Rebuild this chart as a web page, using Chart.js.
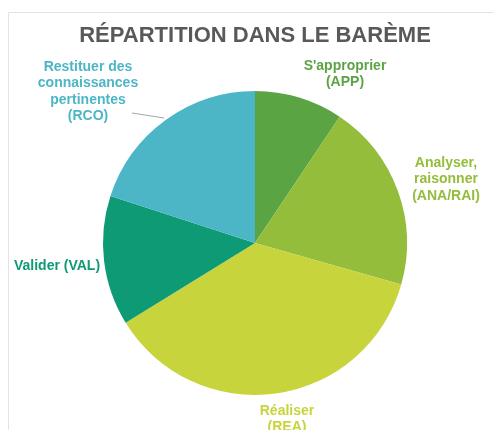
<!DOCTYPE html>
<html>
<head>
<meta charset="utf-8">
<script src="https://cdn.jsdelivr.net/npm/chart.js@4/dist/chart.umd.min.js"></script>
<style>
html,body{margin:0;padding:0;background:#fff;}
#wrap{width:494px;height:430px;position:relative;}
</style>
</head>
<body>
<div id="wrap"><canvas id="c" width="494" height="430"></canvas></div>
<script>
const categories = ["S'approprier (APP)", "Analyser, raisonner (ANA/RAI)", "Réaliser (REA)", "Valider (VAL)", "Restituer des connaissances pertinentes (RCO)"];
const labelLines = [["S'approprier","(APP)"],["Analyser,","raisonner","(ANA/RAI)"],["Réaliser","(REA)"],["Valider (VAL)"],["Restituer des","connaissances","pertinentes","(RCO)"]];
const values = [9.4, 20, 36.8, 13.8, 20];
const colors = ["#5ba443", "#93bd3b", "#c8d43c", "#0f9a76", "#4db6c6"];
const title = "RÉPARTITION DANS LE BARÈME";

const labelPos = [[345,66],[446,163],[287,411],[57,266],[88,67]];

const overlay = {
  id: 'overlay',
  beforeDraw(chart){
    const ctx = chart.ctx;
    ctx.save();
    ctx.fillStyle = '#fff';
    ctx.fillRect(0,0,chart.width,chart.height);
    ctx.strokeStyle = '#e3e3e3';
    ctx.lineWidth = 1;
    ctx.beginPath();
    ctx.moveTo(8.5, 430); ctx.lineTo(8.5, 12.5); ctx.lineTo(494, 12.5);
    ctx.stroke();
    ctx.restore();
  },
  afterDraw(chart){
    const ctx = chart.ctx;
    ctx.save();
    ctx.textAlign = 'center';
    ctx.textBaseline = 'middle';
    ctx.fillStyle = '#595959';
    ctx.font = 'bold 22px "Liberation Sans", Arial, sans-serif';
    ctx.fillText(title, 255, 36);
    ctx.font = 'bold 14px "Liberation Sans", Arial, sans-serif';
    labelLines.forEach((lines, i) => {
      ctx.fillStyle = colors[i];
      const [x, y] = labelPos[i];
      lines.forEach((t, j) => ctx.fillText(t, x, y + j * 16.4));
    });
    // leader line for RCO
    ctx.strokeStyle = '#a6a6a6';
    ctx.lineWidth = 1;
    ctx.beginPath();
    ctx.moveTo(132, 113); ctx.lineTo(164, 118);
    ctx.stroke();
    ctx.restore();
  }
};

new Chart(document.getElementById('c'), {
  type: 'pie',
  data: {
    labels: categories,
    datasets: [{
      data: values,
      backgroundColor: colors,
      borderWidth: 0,
      hoverOffset: 0
    }]
  },
  options: {
    responsive: false,
    animation: false,
    layout: { padding: { top: 91, bottom: 35, left: 103, right: 87 } },
    plugins: {
      legend: { display: false },
      title: { display: false },
      tooltip: { enabled: false }
    },
    events: []
  },
  plugins: [overlay]
});
</script>
</body>
</html>
